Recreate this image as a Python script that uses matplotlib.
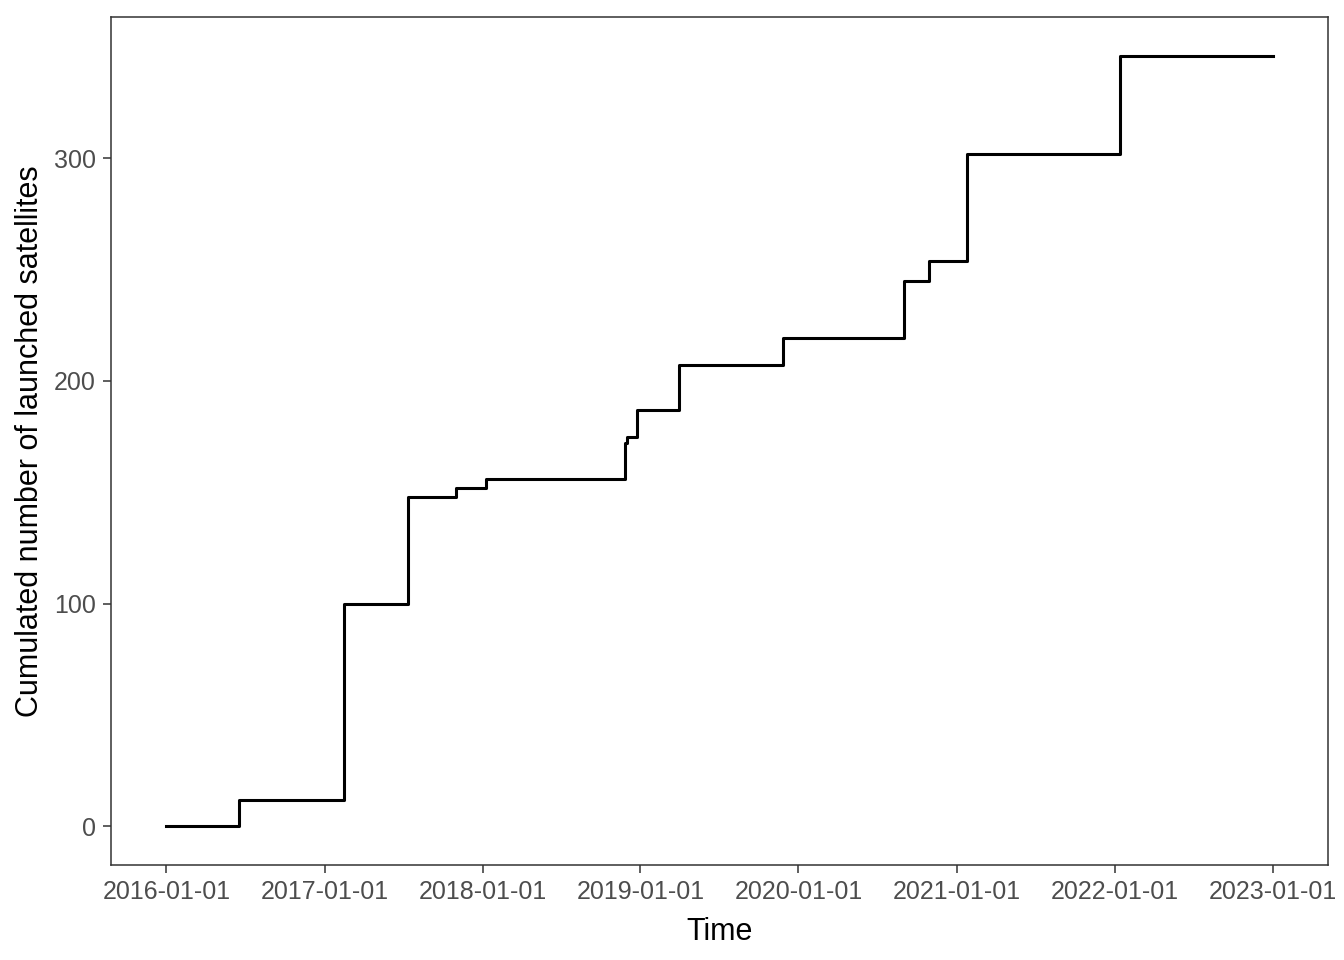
import matplotlib
matplotlib.use("Agg")
import matplotlib.pyplot as plt
import matplotlib.dates as mdates
import numpy as np
import pandas as pd

plt.rcParams["font.family"] = ["Liberation Sans", "DejaVu Sans"]

# launch dates and cumulated satellite counts
launch_dates = [
    "2016-01-01", "2016-06-18", "2017-02-14", "2017-07-12", "2017-11-01",
    "2018-01-10", "2018-11-27", "2018-11-30", "2018-12-25", "2019-04-01",
    "2019-11-27", "2020-09-02", "2020-10-29", "2021-01-24", "2022-01-14",
    "2023-01-01",
]
cumulated = [0, 12, 100, 148, 152, 156, 172, 175, 187, 207, 219, 245, 254, 302, 346, 346]
tick_dates = ["2016-01-01", "2017-01-01", "2018-01-01", "2019-01-01",
              "2020-01-01", "2021-01-01", "2022-01-01", "2023-01-01"]
y_ticks = [0, 100, 200, 300]

dates = pd.to_datetime(launch_dates)
ticks = pd.to_datetime(tick_dates)

fig = plt.figure(figsize=(6.72, 4.8), dpi=200)
ax = fig.add_axes([0.0826, 0.099, 0.988 - 0.0826, 0.9823 - 0.099])

ax.step(dates, cumulated, where="post", color="black", linewidth=1.1)

# ggplot-style 5% expansion
x0, x1 = mdates.date2num(dates[0]), mdates.date2num(dates[-1])
dx = (x1 - x0) * 0.05
ax.set_xlim(x0 - dx, x1 + dx)
ymax = max(cumulated)
ax.set_ylim(-ymax * 0.05, ymax * 1.05)

ax.set_xticks(ticks)
ax.set_xticklabels(tick_dates)
ax.set_yticks(y_ticks)

for s in ax.spines.values():
    s.set_color("#333333")
    s.set_linewidth(0.55)
ax.tick_params(axis="both", colors="#333333", width=0.55, length=2.75,
               labelsize=9, labelcolor="#4D4D4D", pad=2.8)

ax.set_xlabel("Time", fontsize=11, labelpad=4.5)
ax.set_ylabel("Cumulated number of launched satellites", fontsize=11, labelpad=3)

fig.savefig("out.png", dpi=200, facecolor="white")
